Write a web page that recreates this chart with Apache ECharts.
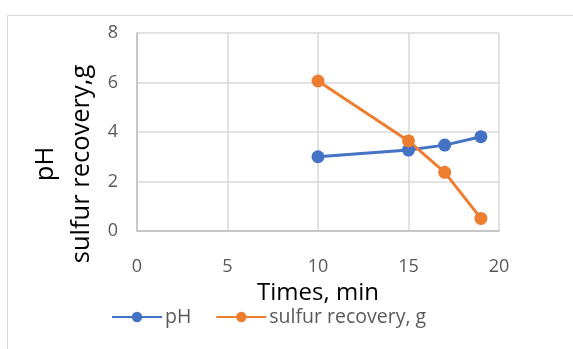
<!DOCTYPE html>
<html>
<head>
<meta charset="utf-8">
<script src="https://cdn.jsdelivr.net/npm/echarts@6/dist/echarts.min.js"></script>
<style>
  html, body { margin: 0; padding: 0; background: #fff; }
  #chart { width: 573px; height: 349px; }
</style>
</head>
<body>
<div id="chart"></div>
<script>
// Reaction time (min) and measured values
const times = [10, 15, 17, 19];
const phValues = [3.0, 3.27, 3.47, 3.81];
const sulfurValues = [6.06, 3.64, 2.37, 0.51];
const seriesNames = ['pH', 'sulfur recovery, g'];
const xTitle = 'Times, min';
const yTitleLines = ['pH', 'sulfur recovery,g'];

const FONT = 'Open Sans';
const chart = echarts.init(document.getElementById('chart'));

const pair = (xs, ys) => xs.map((x, i) => [x, ys[i]]);

chart.setOption({
  animation: false,
  grid: { left: 137, right: 74, top: 33, bottom: 118, containLabel: false },
  graphic: [
    {
      type: 'rect', silent: true, z: -10,
      shape: { x: 7.5, y: 15.5, width: 600, height: 400 },
      style: { fill: '#fff', stroke: '#d9d9d9', lineWidth: 1 }
    },
    {
      type: 'text', silent: true,
      x: 64, y: 164, rotation: Math.PI / 2,
      style: {
        text: yTitleLines.join('\n'), fill: '#000', font: '25.5px "' + FONT + '"',
        align: 'center', verticalAlign: 'middle', lineHeight: 36
      }
    }
  ],
  xAxis: {
    type: 'value', min: 0, max: 20, interval: 5,
    name: xTitle, nameLocation: 'middle', nameGap: 49,
    nameTextStyle: { color: '#000', fontSize: 24, fontFamily: FONT },
    axisLine: { show: true, lineStyle: { color: '#bfbfbf', width: 1.5 } },
    axisTick: { show: false },
    axisLabel: { color: '#595959', fontSize: 18, fontFamily: FONT, margin: 27 },
    splitLine: { show: true, lineStyle: { color: '#d9d9d9', width: 1.5 } }
  },
  yAxis: {
    type: 'value', min: 0, max: 8, interval: 2,
    axisLine: { show: true, lineStyle: { color: '#bfbfbf', width: 1.5 } },
    axisTick: { show: false },
    axisLabel: { color: '#595959', fontSize: 18, fontFamily: FONT, margin: 19 },
    splitLine: { show: true, lineStyle: { color: '#d9d9d9', width: 1.5 } }
  },
  legend: {
    top: 302, left: 106, itemGap: 24, itemWidth: 50, itemHeight: 13,
    data: seriesNames,
    textStyle: { color: '#595959', fontSize: 19.5, fontFamily: FONT, padding: [0, 0, 0, -2] }
  },
  series: [
    {
      name: seriesNames[0], type: 'line', data: pair(times, phValues),
      symbol: 'circle', symbolSize: 13,
      lineStyle: { color: '#4472c4', width: 3 },
      itemStyle: { color: '#4472c4' }
    },
    {
      name: seriesNames[1], type: 'line', data: pair(times, sulfurValues),
      symbol: 'circle', symbolSize: 13,
      lineStyle: { color: '#ed7d31', width: 3 },
      itemStyle: { color: '#ed7d31' }
    }
  ]
});
</script>
</body>
</html>
